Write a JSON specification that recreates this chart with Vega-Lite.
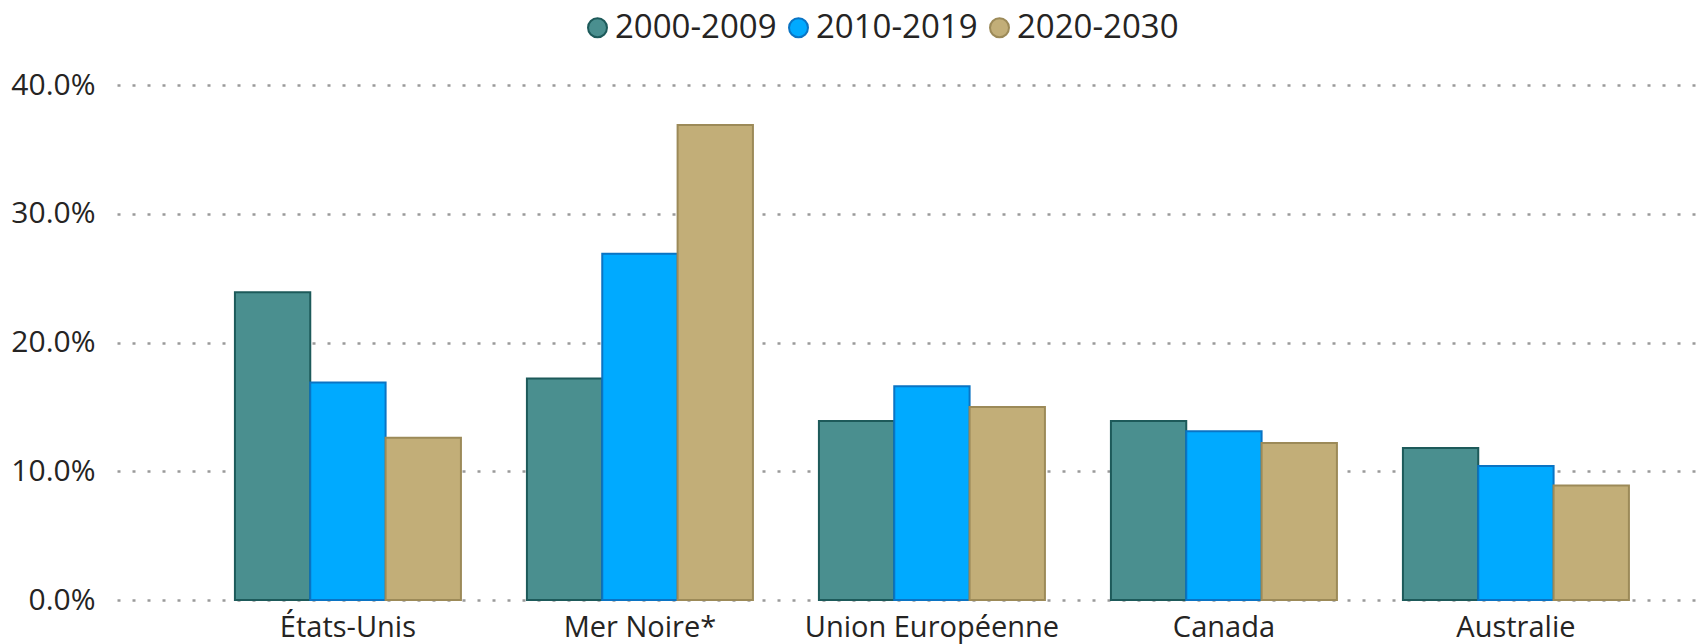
{
  "$schema": "https://vega.github.io/schema/vega-lite/v6.json",
  "autosize": {"type": "none"},
  "width": 1580,
  "height": 515,
  "padding": {"left": 117, "top": 85, "right": 3, "bottom": 44},
  "background": "white",
  "data": {
    "values": [
      {"region": "États-Unis", "period": "2000-2009", "value": 0.239},
      {"region": "États-Unis", "period": "2010-2019", "value": 0.169},
      {"region": "États-Unis", "period": "2020-2030", "value": 0.126},
      {"region": "Mer Noire*", "period": "2000-2009", "value": 0.172},
      {"region": "Mer Noire*", "period": "2010-2019", "value": 0.269},
      {"region": "Mer Noire*", "period": "2020-2030", "value": 0.369},
      {"region": "Union Européenne", "period": "2000-2009", "value": 0.139},
      {"region": "Union Européenne", "period": "2010-2019", "value": 0.166},
      {"region": "Union Européenne", "period": "2020-2030", "value": 0.150},
      {"region": "Canada", "period": "2000-2009", "value": 0.139},
      {"region": "Canada", "period": "2010-2019", "value": 0.131},
      {"region": "Canada", "period": "2020-2030", "value": 0.122},
      {"region": "Australie", "period": "2000-2009", "value": 0.118},
      {"region": "Australie", "period": "2010-2019", "value": 0.104},
      {"region": "Australie", "period": "2020-2030", "value": 0.089}
    ]
  },
  "mark": {"type": "bar", "strokeWidth": 2},
  "encoding": {
    "x": {
      "field": "region",
      "type": "nominal",
      "sort": null,
      "scale": {"paddingInner": 0.226, "paddingOuter": 0.3185, "align": 0.634},
      "axis": {
        "title": null,
        "labelAngle": 0,
        "domain": false,
        "ticks": false,
        "grid": false,
        "labelPadding": 13,
        "labelFontSize": 29,
        "labelLimit": 0,
        "labelFont": "Open Sans",
        "labelColor": "#252423"
      }
    },
    "xOffset": {
      "field": "period",
      "type": "nominal",
      "sort": ["2000-2009", "2010-2019", "2020-2030"],
      "scale": {"paddingInner": 0, "paddingOuter": 0}
    },
    "y": {
      "field": "value",
      "type": "quantitative",
      "scale": {"domain": [0, 0.4], "nice": false},
      "axis": {
        "title": null,
        "format": ".1%",
        "values": [0, 0.1, 0.2, 0.3, 0.4],
        "domain": false,
        "ticks": false,
        "labelPadding": 22,
        "labelFontSize": 30,
        "labelFont": "Open Sans",
        "labelColor": "#252423",
        "grid": true,
        "gridColor": "#9a9a9a",
        "gridDash": [3, 12],
        "gridWidth": 2.5
      }
    },
    "color": {
      "field": "period",
      "type": "nominal",
      "sort": ["2000-2009", "2010-2019", "2020-2030"],
      "scale": {
        "domain": ["2000-2009", "2010-2019", "2020-2030"],
        "range": ["#4a8f8f", "#00aaff", "#c2ae78"]
      },
      "legend": {
        "title": null,
        "orient": "none",
        "direction": "horizontal",
        "legendX": 464,
        "legendY": -74,
        "symbolType": "circle",
        "symbolSize": 360,
        "symbolStrokeWidth": 2,
        "labelFontSize": 33,
        "labelLimit": 0,
        "labelFont": "Open Sans",
        "labelColor": "#252423",
        "labelOffset": 1,
        "columnPadding": 5
      }
    },
    "stroke": {
      "field": "period",
      "type": "nominal",
      "sort": ["2000-2009", "2010-2019", "2020-2030"],
      "scale": {
        "domain": ["2000-2009", "2010-2019", "2020-2030"],
        "range": ["#1d5a5a", "#0a74c4", "#9c8a58"]
      },
      "legend": null
    }
  },
  "config": {
    "view": {"stroke": null}
  }
}
